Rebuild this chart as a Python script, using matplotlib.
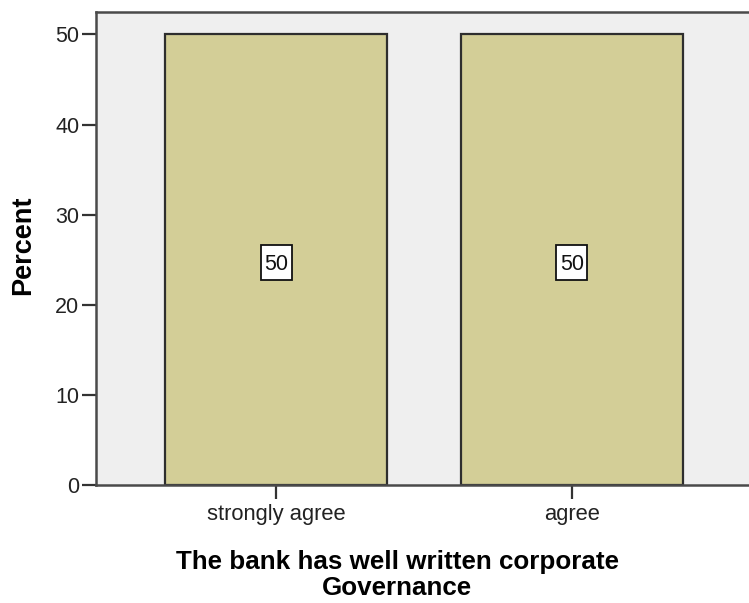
import numpy as np
import matplotlib
matplotlib.use('Agg')
import matplotlib.pyplot as plt
import matplotlib.transforms as mtransforms
from matplotlib.patches import Rectangle

categories=['strongly agree','agree']
percent=[50,50]
y_ticks=[0,10,20,30,40,50]

plt.rcParams['font.family']=['Liberation Sans','DejaVu Sans']

fig=plt.figure(figsize=(7.49,6.03),dpi=100)
ax=fig.add_axes([96/749,1-485/603,1-96/749,(485-11.5)/603])
ax.set_facecolor('#efefef')

x=np.arange(len(categories))
ax.bar(x,percent,width=0.75,color='#d3ce97',edgecolor='#2e2e2e',linewidth=1.6,zorder=2)

# value labels in a white box, box size given in inches around the bar midpoint
box_w,box_h,box_dy=0.31,0.35,-0.025
for xi,val in zip(x,percent):
    trans=fig.dpi_scale_trans+mtransforms.ScaledTranslation(xi,val/2,ax.transData)
    ax.add_patch(Rectangle((-box_w/2,-box_h/2+box_dy),box_w,box_h,transform=trans,
                           facecolor='white',edgecolor='#111111',linewidth=1.3,zorder=3))
    ax.text(0,box_dy,f'{val:g}',transform=trans,ha='center',va='center_baseline',
            fontsize=15.5,color='#111111',zorder=4)

ax.set_xlim(-0.61,1.60)
ax.set_ylim(0,52.55)
ax.set_xticks(x)
ax.set_xticklabels(categories)
ax.set_yticks(y_ticks)
ax.tick_params(axis='x',length=10,width=1.6,color='#333333',pad=4,labelsize=15.8,labelcolor='#222222')
ax.tick_params(axis='y',length=10,width=1.6,color='#333333',pad=2,labelsize=15.5,labelcolor='#222222')
for side in ['left','bottom','top']:
    ax.spines[side].set_color('#4a4a4a')
    ax.spines[side].set_linewidth(1.8)
ax.spines['right'].set_visible(False)

fig.text(23/749,1-245/603,'Percent',rotation=90,ha='center',va='center',fontsize=19.5,fontweight='bold')
fig.text(397/749,1-575/603,'The bank has well written corporate\nGovernance',ha='center',va='center',
         fontsize=18.7,fontweight='bold',linespacing=1.12)

plt.savefig('out.png',dpi=100)
